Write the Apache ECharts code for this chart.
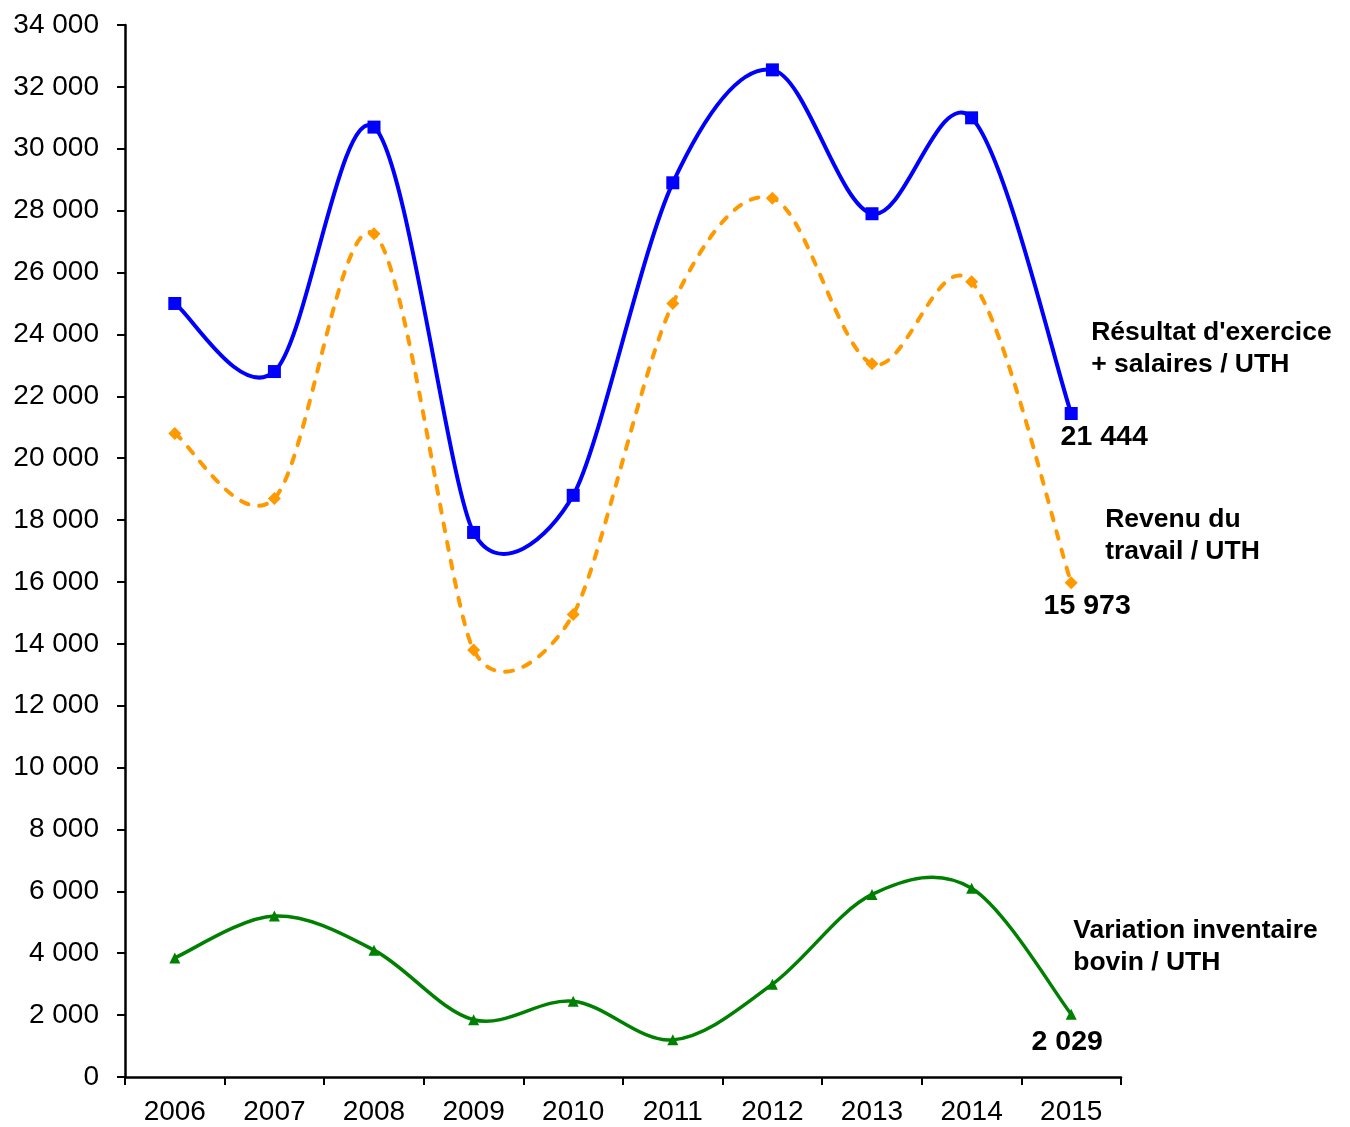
<!DOCTYPE html>
<html>
<head>
<meta charset="utf-8">
<script src="https://cdn.jsdelivr.net/npm/echarts@6/dist/echarts.min.js"></script>
<style>
  html, body { margin: 0; padding: 0; background: #fff; }
  #chart { width: 1350px; height: 1127px; }
</style>
</head>
<body>
<div id="chart"></div>
<script>
// Years on the x axis
const years = ['2006', '2007', '2008', '2009', '2010', '2011', '2012', '2013', '2014', '2015'];

// Résultat d'exercice + salaires / UTH (€)
const resultatSalaires = [25000, 22800, 30700, 17600, 18800, 28900, 32550, 27900, 31000, 21444];
// Revenu du travail / UTH (€)
const revenuTravail = [20800, 18700, 27250, 13800, 14950, 25000, 28400, 23050, 25700, 15973];
// Variation inventaire bovin / UTH (€)
const variationBovin = [3850, 5200, 4100, 1850, 2450, 1200, 3000, 5900, 6100, 2029];

// Y axis range and step
const yMin = 0;
const yMax = 34000;
const yStep = 2000;

const FONT = '"Liberation Sans", Arial, sans-serif';

// French-style thousands separator: "34 000"
function fmt(v) {
  return String(Math.round(v)).replace(/\B(?=(\d{3})+(?!\d))/g, ' ');
}

// Only the last point of each series carries its value label
function withLastLabel(values, labelOpts) {
  return values.map((v, i) => i === values.length - 1
    ? { value: v, label: Object.assign({ show: true, formatter: p => fmt(p.value) }, labelOpts) }
    : v);
}

function dist(a, b) {
  return Math.hypot(b[0] - a[0], b[1] - a[1]);
}

// Spreadsheet-style smoothing: Catmull-Rom tangents (tension 1/6), shortened
// near short segments so the curve does not overshoot too far.
function smoothPath(api, values) {
  const pts = values.map((v, i) => api.coord([i, v]));
  const n = pts.length;
  // tangent vector (already scaled) at each point
  const tan = pts.map((p, i) => {
    const p0 = pts[Math.max(0, i - 1)];
    const p2 = pts[Math.min(n - 1, i + 1)];
    const d02 = dist(p0, p2);
    if (d02 === 0) return [0, 0];
    let f = 1 / 6;
    if (i > 0) f = Math.min(f, dist(p0, p) / (2 * d02));
    if (i < n - 1) f = Math.min(f, dist(p, p2) / (2 * d02));
    return [(p2[0] - p0[0]) * f, (p2[1] - p0[1]) * f];
  });
  let d = 'M' + pts[0][0] + ' ' + pts[0][1];
  for (let i = 0; i < n - 1; i++) {
    const p1 = pts[i];
    const p2 = pts[i + 1];
    d += ' C' + (p1[0] + tan[i][0]) + ' ' + (p1[1] + tan[i][1]) + ' ' +
      (p2[0] - tan[i + 1][0]) + ' ' + (p2[1] - tan[i + 1][1]) + ' ' + p2[0] + ' ' + p2[1];
  }
  return d;
}

function curveSeries(values, style) {
  return {
    type: 'custom',
    silent: true,
    data: [[0, values[0]]],
    z: 1,
    renderItem: (params, api) => ({
      type: 'path',
      shape: { pathData: smoothPath(api, values) },
      style: Object.assign({ fill: null }, style)
    })
  };
}

const valueLabelStyle = {
  fontFamily: FONT, fontSize: 28.5, fontWeight: 'bold', color: '#000', position: 'inside'
};
const nameLabelStyle = {
  show: true, fontFamily: FONT, fontSize: 26.5, fontWeight: 'bold', color: '#000',
  lineHeight: 32, align: 'left', verticalAlign: 'middle', distance: 0
};

const BLUE = '#0000FF';
const ORANGE = '#FF9900';
const GREEN = '#008000';

const chart = echarts.init(document.getElementById('chart'), null, { renderer: 'canvas' });

chart.setOption({
  animation: false,
  backgroundColor: '#fff',
  grid: { left: 125, right: 229, top: 25, bottom: 50, containLabel: false },
  xAxis: {
    type: 'category',
    data: years,
    boundaryGap: true,
    axisLine: { lineStyle: { color: '#000', width: 2.5 } },
    axisTick: { show: true, length: 8, inside: false, alignWithLabel: false, lineStyle: { color: '#000', width: 2 } },
    axisLabel: { fontFamily: FONT, fontSize: 28, color: '#000', margin: 21 },
    splitLine: { show: false }
  },
  yAxis: {
    type: 'value',
    min: yMin,
    max: yMax,
    interval: yStep,
    axisLine: { show: true, lineStyle: { color: '#000', width: 2.5 } },
    axisTick: { show: true, length: 8, inside: false, lineStyle: { color: '#000', width: 2 } },
    axisLabel: { fontFamily: FONT, fontSize: 28, color: '#000', margin: 26, formatter: fmt },
    splitLine: { show: false }
  },
  series: [
    // smoothed curves
    curveSeries(resultatSalaires, { stroke: BLUE, lineWidth: 4 }),
    curveSeries(revenuTravail, { stroke: ORANGE, lineWidth: 4, lineDash: [8, 11], lineCap: 'round' }),
    curveSeries(variationBovin, { stroke: GREEN, lineWidth: 3.5 }),
    // markers, value labels and series names
    {
      name: "Résultat d'exercice\n+ salaires / UTH",
      type: 'line',
      data: withLastLabel(resultatSalaires, Object.assign({ offset: [33, 24] }, valueLabelStyle)),
      symbol: 'rect',
      symbolSize: 13,
      itemStyle: { color: BLUE },
      lineStyle: { opacity: 0 },
      endLabel: Object.assign({ formatter: p => p.seriesName, offset: [20, -65] }, nameLabelStyle),
      z: 4
    },
    {
      name: 'Revenu du\ntravail / UTH',
      type: 'line',
      data: withLastLabel(revenuTravail, Object.assign({ offset: [16, 23] }, valueLabelStyle)),
      symbol: 'diamond',
      symbolSize: 13,
      itemStyle: { color: ORANGE },
      lineStyle: { opacity: 0 },
      endLabel: Object.assign({ formatter: p => p.seriesName, offset: [34, -47] }, nameLabelStyle),
      z: 3
    },
    {
      name: 'Variation inventaire\nbovin / UTH',
      type: 'line',
      data: withLastLabel(variationBovin, Object.assign({ offset: [-4, 28] }, valueLabelStyle)),
      symbol: 'triangle',
      symbolSize: 11,
      itemStyle: { color: GREEN },
      lineStyle: { opacity: 0 },
      endLabel: Object.assign({ formatter: p => p.seriesName, offset: [2, -68] }, nameLabelStyle),
      z: 3
    }
  ]
});
</script>
</body>
</html>
